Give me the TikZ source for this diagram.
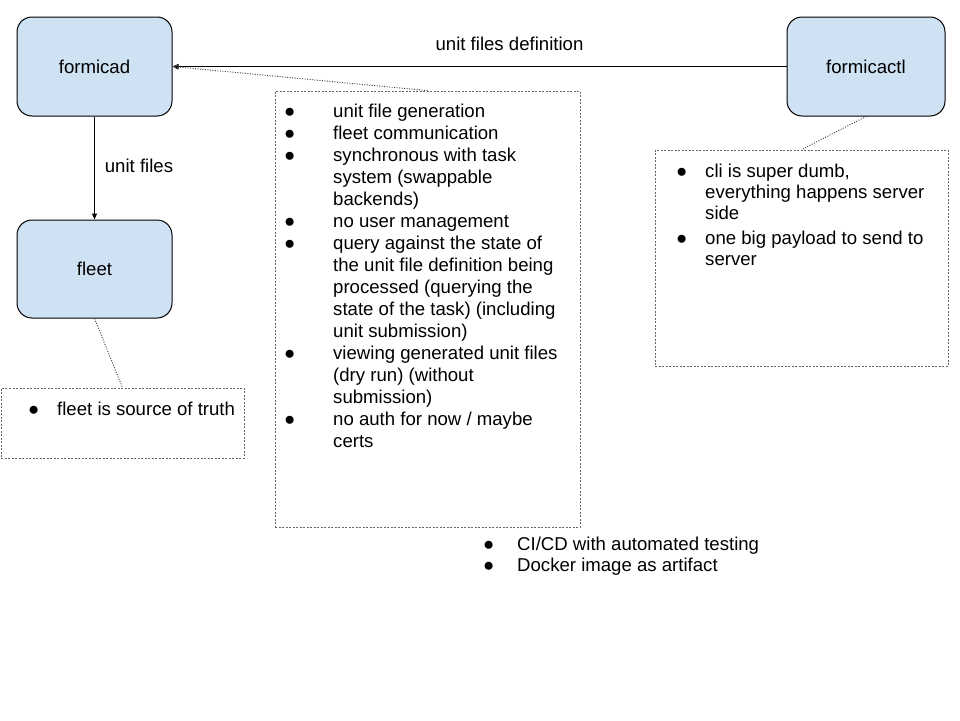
\documentclass[tikz,border=0pt]{standalone}
\usepackage{fontspec}
\setmainfont{Liberation Sans}
\usetikzlibrary{arrows.meta}
\definecolor{boxblue}{HTML}{CFE2F3}
\newcommand{\bul}{●}
\tikzset{
  comp/.style={draw=black, line width=1pt, fill=boxblue, rounded corners=15pt, inner sep=0pt, font=\fontsize{18.6}{22}\selectfont},
  notebox/.style={draw=black!60, line width=0.8pt, dash pattern=on 2pt off 1.5pt, inner sep=0pt},
  flow/.style={draw=black, line width=1pt, -{Triangle[length=6pt,width=5pt]}},
  tether/.style={draw=black!75, line width=0.9pt, dash pattern=on 1pt off 1.5pt},
  tetherarrow/.style={tether, -{Triangle[length=6pt,width=5pt,fill=black]}},
  lbl/.style={inner sep=0pt, font=\fontsize{18.6}{22}\selectfont},
  listtxt/.style={inner sep=0pt, anchor=base west, align=left, font=\fontsize{18.6}{22}\selectfont},
}
\begin{document}
\begin{tikzpicture}[x=1pt,y=-1pt]
\useasboundingbox (0,0) rectangle (960,720);
\fill[white] (0,0) rectangle (960,720);

% components
\node[comp, minimum width=155pt, minimum height=99pt] (formicad) at (94.5,66.5) {formicad};
\node[comp, minimum width=155pt, minimum height=98pt] (fleet) at (94.5,269) {fleet};
\node[comp, minimum width=158pt, minimum height=99pt] (formicactl) at (866,66.5) {formicactl};

% note boxes
\node[notebox, minimum width=305pt, minimum height=436pt] (bigbox) at (427.5,309) {};
\node[notebox, minimum width=293pt, minimum height=216pt] (rbox) at (801.5,258) {};
\node[notebox, minimum width=243pt, minimum height=70pt] (fbox) at (122.5,423) {};

% connectors
\draw[flow] (formicactl.west) -- (formicad.east);
\draw[flow] (formicad.south) -- (fleet.north);
\draw[tetherarrow] (bigbox.north) -- (formicad.east);
\draw[tether] (formicactl.south) -- (rbox.north);
\draw[tether] (fleet.south) -- (fbox.north);

% connector labels
\node[lbl] (l1) at (509.5,44) {unit files definition};
\node[lbl] (l2) at (139,166) {unit files};

% big list
\node[listtxt] (biglist) at (284,117) {%
\begin{tabular}[t]{@{}p{49pt}@{}l@{}}
\bul & unit file generation\\
\bul & fleet communication\\
\bul & synchronous with task\\
 & system (swappable\\
 & backends)\\
\bul & no user management\\
\bul & query against the state of\\
 & the unit file definition being\\
 & processed (querying the\\
 & state of the task) (including\\
 & unit submission)\\
\bul & viewing generated unit files\\
 & (dry run) (without\\
 & submission)\\
\bul & no auth for now / maybe\\
 & certs
\end{tabular}};

% right list
\node[listtxt] (rlist) at (676,177) {%
\fontsize{18.6}{21}\selectfont
\begin{tabular}[t]{@{}p{29pt}@{}l@{}}
\bul & cli is super dumb,\\
 & everything happens server\\
 & side\\[4pt]
\bul & one big payload to send to\\
 & server
\end{tabular}};

% fleet list
\node[listtxt] (flist) at (28,415) {%
\begin{tabular}[t]{@{}p{29pt}@{}l@{}}
\bul & fleet is source of truth
\end{tabular}};

% bottom list
\node[listtxt] (blist) at (483,550) {%
\fontsize{18.6}{21}\selectfont
\begin{tabular}[t]{@{}p{34pt}@{}l@{}}
\bul & CI/CD with automated testing\\
\bul & Docker image as artifact
\end{tabular}};
\end{tikzpicture}
\end{document}
